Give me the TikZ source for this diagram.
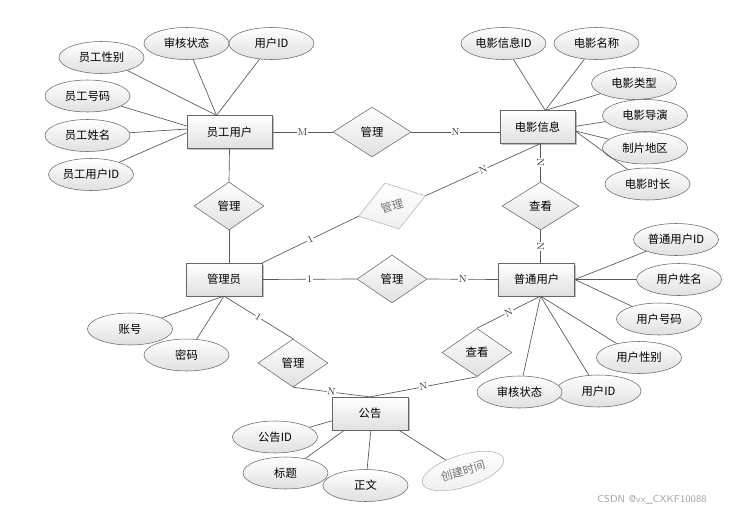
\documentclass[tikz,border=0pt]{standalone}
\usepackage{fontspec}
\newfontfamily\cjk{Noto Sans CJK SC}
\usetikzlibrary{shapes.geometric,shadows}

\begin{document}
\begin{tikzpicture}[
  x=0.75pt, y=-0.75pt,
  font=\cjk\fontsize{8.5}{10}\selectfont,
  link/.style={draw=black!65, line width=0.5pt},
  entity/.style={rectangle, draw=black!60, top color=white, bottom color=black!12, minimum width=57pt, minimum height=24.5pt, inner sep=1pt,
    drop shadow={shadow xshift=1.2pt, shadow yshift=-1.2pt, opacity=0.25, fill=black}},
  attr/.style={ellipse, draw=black!60, top color=white, bottom color=black!12, minimum width=63.75pt, minimum height=24pt, inner sep=1pt},
  rel/.style={diamond, draw=black!60, top color=white, bottom color=black!12, minimum width=52.5pt, minimum height=36pt, inner sep=0pt},
  faint/.style={draw=black!30, text=black!55, bottom color=black!6},
  card/.style={font=\fontsize{7.5}{8}\selectfont, fill=white, inner sep=0.6pt, text=black!80},
]
\fill[white] (0,0) rectangle (735,514);
\useasboundingbox (0,0) rectangle (735,514);

% ---- entities
\node[entity, minimum width=63.75pt] (ygyh) at (229.5,132)   {员工用户};
\node[entity, minimum width=56.25pt] (dyxx) at (537.5,127)   {电影信息};
\node[entity] (gly)  at (224,279.5)   {管理员};
\node[entity] (ptyh) at (536.5,279.5) {普通用户};
\node[entity] (gg)   at (370,413.5)   {公告};

% ---- relations
\node[rel, minimum width=58.5pt, minimum height=37.5pt] (gl1) at (372,132) {管理};
\node[rel] (gl2) at (229,206) {管理};
\node[rel, faint, rotate=17] (gl3) at (392,206) {管理};
\node[rel] (gl4) at (392,279) {管理};
\node[rel] (gl5) at (293,363) {管理};
\node[rel, minimum width=57.75pt] (ck1) at (540.5,206) {查看};
\node[rel] (ck2) at (477,352.5) {查看};

% ---- attributes: 员工用户
\node[attr] (a1) at (186.5,43.5) {审核状态};
\node[attr] (a2) at (271.5,43.5) {用户ID};
\node[attr] (a3) at (101.5,57.5) {员工性别};
\node[attr] (a4) at (87.5,96)    {员工号码};
\node[attr] (a5) at (87.5,135.5) {员工姓名};
\node[attr] (a6) at (91,174.5)   {员工用户ID};

% ---- attributes: 电影信息
\node[attr] (b1) at (503.5,43.5) {电影信息ID};
\node[attr] (b2) at (596.5,43.5) {电影名称};
\node[attr] (b3) at (634,83.5)   {电影类型};
\node[attr] (b4) at (645,115.5)  {电影导演};
\node[attr] (b5) at (645,148)    {制片地区};
\node[attr] (b6) at (647.5,184)  {电影时长};

% ---- attributes: 普通用户
\node[attr] (c1) at (676,239.5)  {普通用户ID};
\node[attr] (c2) at (679,279.5)  {用户姓名};
\node[attr] (c3) at (659,319)    {用户号码};
\node[attr] (c4) at (639,357.5)  {用户性别};
\node[attr] (c5) at (598.5,391)  {用户ID};
\node[attr] (c6) at (519.5,392)  {审核状态};

% ---- attributes: 管理员
\node[attr] (d1) at (130,329)    {账号};
\node[attr] (d2) at (186.5,355)  {密码};

% ---- attributes: 公告
\node[attr] (e1) at (275,437)    {公告ID};
\node[attr] (e2) at (285.5,473)  {标题};
\node[attr] (e3) at (365.5,485.5) {正文};
\node[attr, faint, rotate=17] (e4) at (463,471) {创建时间};

% ---- attribute links
\draw[link] (a1) -- (ygyh.128);
\draw[link] (a2) -- (ygyh.128);
\draw[link] (a3) -- (ygyh.128);
\draw[link] (a4) -- (ygyh.172);
\draw[link] (a5) -- (ygyh.176);
\draw[link] (a6) -- (ygyh.181);
\draw[link] (b1) -- (dyxx.65);
\draw[link] (b2) -- (dyxx.65);
\draw[link] (b3) -- (dyxx.65);
\draw[link] (b4) -- (dyxx.1);
\draw[link] (b5) -- (dyxx.354);
\draw[link] (b6) -- (dyxx.354);
\coordinate (ptb) at (ck1.south |- ptyh.south);
\draw[link] (c1) -- (ptyh.east);
\draw[link] (c2) -- (ptyh.east);
\draw[link] (c3) -- (ptyh.east);
\draw[link] (c4) -- (ptb);
\draw[link] (c5) -- (ptb);
\draw[link] (c6) -- (ptb);
\draw[link] (d1) -- (gly.south);
\draw[link] (d2) -- (gly.south);
\draw[link] (e1) -- (gg.191);
\draw[link] (e2) -- (gg.213);
\draw[link] (e3) -- (gg.273);
\draw[link] (e4) -- (gg.330);

% ---- relation links
\draw[link] (ygyh.east) -- node[card]{M} (gl1.west);
\draw[link] (gl1.east) -- node[card]{N} (gl1.east -| dyxx.west);
\draw[link] (ygyh.south) -- (gl2.north);
\draw[link] (gl2.south) -- (gl2.south |- gly.north);
\draw[link] (gly.east) -- node[card]{1} (gl4.west);
\draw[link] (gl4.east) -- node[card]{N} (ptyh.west);
\draw[link] (gly.north east) -- node[card, sloped]{1} (gl3.west);
\coordinate (dyb) at (ck1.north |- dyxx.south);
\draw[link] (gl3.east) -- node[card, sloped]{N} (dyb);
\draw[link] (dyb) -- node[card, sloped]{N} (ck1.north);
\draw[link] (ck1.south) -- node[card, sloped]{N} (ck1.south |- ptyh.north);
\draw[link] (ptb) -- node[card, sloped]{N} (ck2.north);
\draw[link] (gly.south) -- node[card, sloped]{1} (gl5.north);
\draw[link] (gl5.south) -- node[card, sloped]{N} (gg.north);
\draw[link] (ck2.south) -- node[card, sloped]{N} (gg.north);

% ---- watermark
\node[font=\sffamily\fontsize{7.5}{9}\selectfont, text=black!35] (wm) at (652,500) {CSDN @vx\_CXKF10088};
\end{tikzpicture}
\end{document}
